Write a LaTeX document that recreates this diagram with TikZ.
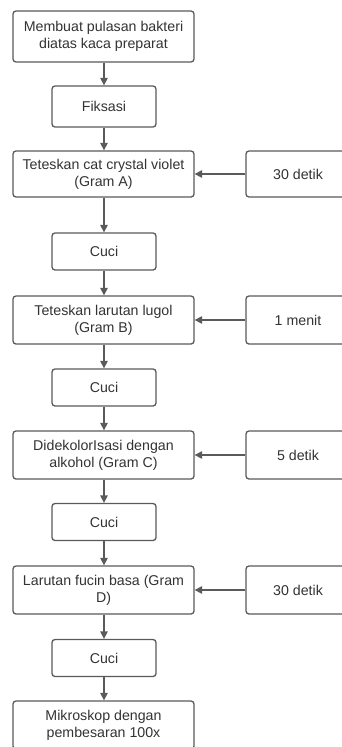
\documentclass[tikz,border=0pt]{standalone}
\usepackage{fontspec}
\setmainfont{Liberation Sans}
\usetikzlibrary{arrows.meta}
\definecolor{linegray}{HTML}{5A5A5A}
\definecolor{textgray}{HTML}{333333}
\tikzset{
  box/.style={draw=linegray, line width=1.3pt, rounded corners=3pt, fill=white,
    inner sep=0pt, align=center, text=textgray,
    font=\fontsize{14.2}{17}\selectfont},
  wide/.style={box, minimum width=181pt},
  small/.style={box, minimum width=104pt},
  flow/.style={draw=linegray, line width=1.3pt, -{Triangle[length=7.5pt,width=7.5pt]}}
}
\begin{document}
\begin{tikzpicture}[x=1pt,y=-1pt]
\useasboundingbox (0,0) rectangle (342,747);
\fill[white] (0,0) rectangle (342,747);
\clip (0,0) rectangle (342,747);
\node[wide, minimum height=51pt] (b1) at (103.5,36.5) {Membuat pulasan bakteri\\diatas kaca preparat};
\node[small, minimum height=41pt] (b2) at (104,106.5) {Fiksasi};
\node[wide, minimum height=46pt] (b3) at (103.5,174) {Teteskan cat crystal violet\\(Gram A)};
\node[small, minimum height=46pt] (t1) at (298,174) {30 detik};
\node[small, minimum height=37pt] (c1) at (104,251.5) {Cuci};
\node[wide, minimum height=48pt] (b4) at (103.5,320) {Teteskan larutan lugol\\(Gram B)};
\node[small, minimum height=48pt] (t2) at (298,320) {1 menit};
\node[small, minimum height=37pt] (c2) at (104,387.5) {Cuci};
\node[wide, minimum height=48pt] (b5) at (103.5,455) {DidekolorIsasi dengan\\alkohol (Gram C)};
\node[small, minimum height=48pt] (t3) at (298,455) {5 detik};
\node[small, minimum height=37pt] (c3) at (104,522) {Cuci};
\node[wide, minimum height=48pt] (b6) at (103.5,590) {Larutan fucin basa (Gram\\D)};
\node[small, minimum height=48pt] (t4) at (298,590) {30 detik};
\node[small, minimum height=37pt] (c4) at (104,658) {Cuci};
\node[wide, minimum height=48pt] (b7) at (103.5,725) {Mikroskop dengan\\pembesaran 100x};
\draw[flow] (b1.south -| b2.north) -- (b2.north);
\draw[flow] (b2) -- (b2.south |- b3.north);
\draw[flow] (b3.south -| c1.north) -- (c1.north);
\draw[flow] (c1) -- (c1.south |- b4.north);
\draw[flow] (b4.south -| c2.north) -- (c2.north);
\draw[flow] (c2) -- (c2.south |- b5.north);
\draw[flow] (b5.south -| c3.north) -- (c3.north);
\draw[flow] (c3) -- (c3.south |- b6.north);
\draw[flow] (b6.south -| c4.north) -- (c4.north);
\draw[flow] (c4) -- (c4.south |- b7.north);
\draw[flow] (t1) -- (b3);
\draw[flow] (t2) -- (b4);
\draw[flow] (t3) -- (b5);
\draw[flow] (t4) -- (b6);
\end{tikzpicture}
\end{document}
